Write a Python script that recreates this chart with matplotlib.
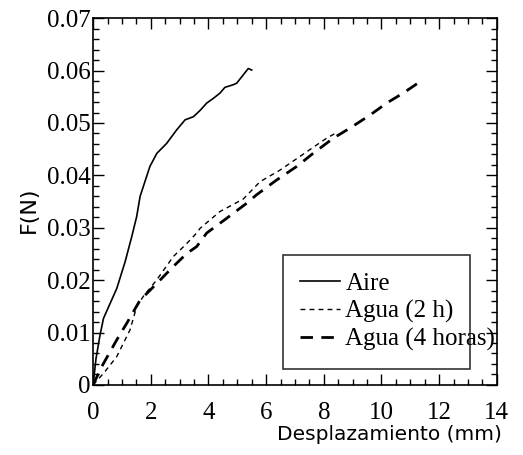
import matplotlib.pyplot as plt
from matplotlib.ticker import MultipleLocator

# Data
aire_x = [0, 0.1, 0.24, 0.36, 0.82, 1.11, 1.34, 1.51, 1.63, 1.97, 2.21, 2.55, 2.9,
          3.19, 3.48, 3.71, 3.94, 4.17, 4.4, 4.57, 4.86, 4.98, 5.21, 5.38, 5.5]
aire_y = [0, 0.005, 0.0095, 0.0127, 0.0184, 0.0235, 0.0283, 0.0321, 0.0360, 0.0417,
          0.0442, 0.0461, 0.0487, 0.0506, 0.0512, 0.0524, 0.0538, 0.0547, 0.0557,
          0.0568, 0.0573, 0.0576, 0.0592, 0.0604, 0.0601]

agua2_x = [0, 0.36, 0.82, 1.28, 1.51, 1.74, 2.2, 2.78, 3.25, 3.59, 3.71, 4.4, 5.21,
           5.79, 6.48, 7.17, 7.75, 8.1, 8.39]
agua2_y = [0, 0.0022, 0.0054, 0.0105, 0.0149, 0.0169, 0.0200, 0.0245, 0.0270, 0.0290,
           0.0299, 0.0331, 0.0355, 0.0388, 0.0410, 0.0436, 0.0458, 0.0471, 0.0480]

agua4_x = [0, 0.3, 0.82, 1.17, 1.63, 1.98, 2.32, 2.78, 3.25, 3.59, 3.94, 4.63, 5.33,
           5.67, 6.36, 7.06, 7.63, 8.33, 8.9, 9.6, 10.18, 10.75, 11.1, 11.39]
agua4_y = [0, 0.0035, 0.0086, 0.0118, 0.0162, 0.0181, 0.0200, 0.0226, 0.0251, 0.0264,
           0.0290, 0.0318, 0.0347, 0.0363, 0.0391, 0.0417, 0.0442, 0.0471, 0.0490,
           0.0515, 0.0538, 0.0557, 0.0570, 0.0581]

yticks = [0, 0.01, 0.02, 0.03, 0.04, 0.05, 0.06, 0.07]
ytick_labels = ['0', '0.01', '0.02', '0.03', '0.04', '0.05', '0.06', '0.07']

serif = 'Liberation Serif'

fig = plt.figure(figsize=(5.23, 4.55), dpi=100)
ax = fig.add_axes([0.178, 0.154, 0.772, 0.806])

ax.plot(aire_x, aire_y, color='black', lw=1.2, label='Aire')
ax.plot(agua2_x, agua2_y, color='black', lw=1.0, dashes=(3.5, 3), label='Agua (2 h)')
ax.plot(agua4_x, agua4_y, color='black', lw=2.0, dashes=(4.5, 3), label='Agua (4 horas)')

ax.set_xlim(0, 14)
ax.set_ylim(0, 0.07)
ax.xaxis.set_major_locator(MultipleLocator(2))
ax.xaxis.set_minor_locator(MultipleLocator(0.5))
ax.yaxis.set_minor_locator(MultipleLocator(0.002))
ax.set_yticks(yticks)
ax.set_yticklabels(ytick_labels)
ax.tick_params(which='both', direction='in', top=True, right=True, width=1)
ax.tick_params(which='major', length=8, labelsize=18)
ax.tick_params(which='minor', length=4)
ax.tick_params(axis='x', which='major', pad=12)
ax.tick_params(axis='y', which='major', pad=2)
for lab in ax.get_xticklabels() + ax.get_yticklabels():
    lab.set_fontfamily(serif)
for s in ax.spines.values():
    s.set_linewidth(1.2)

ax.set_xlabel('Desplazamiento (mm)', fontsize=14.5, family='DejaVu Sans')
ax.set_ylabel('F(N)', fontsize=16, family='DejaVu Sans')
ax.xaxis.set_label_coords(0.735, -0.11)
ax.yaxis.set_label_coords(-0.135, 0.477)

leg = ax.legend(loc='lower left', bbox_to_anchor=(0.47, 0.044, 0.464, 0.311),
                mode='expand', prop={'family': serif, 'size': 18},
                handlelength=1.6, handletextpad=0.2, labelspacing=0.2,
                borderpad=0.7, frameon=True, fancybox=False, borderaxespad=0)
leg.get_frame().set_edgecolor('black')
leg.get_frame().set_linewidth(1.2)

fig.savefig('out.png', dpi=100)
